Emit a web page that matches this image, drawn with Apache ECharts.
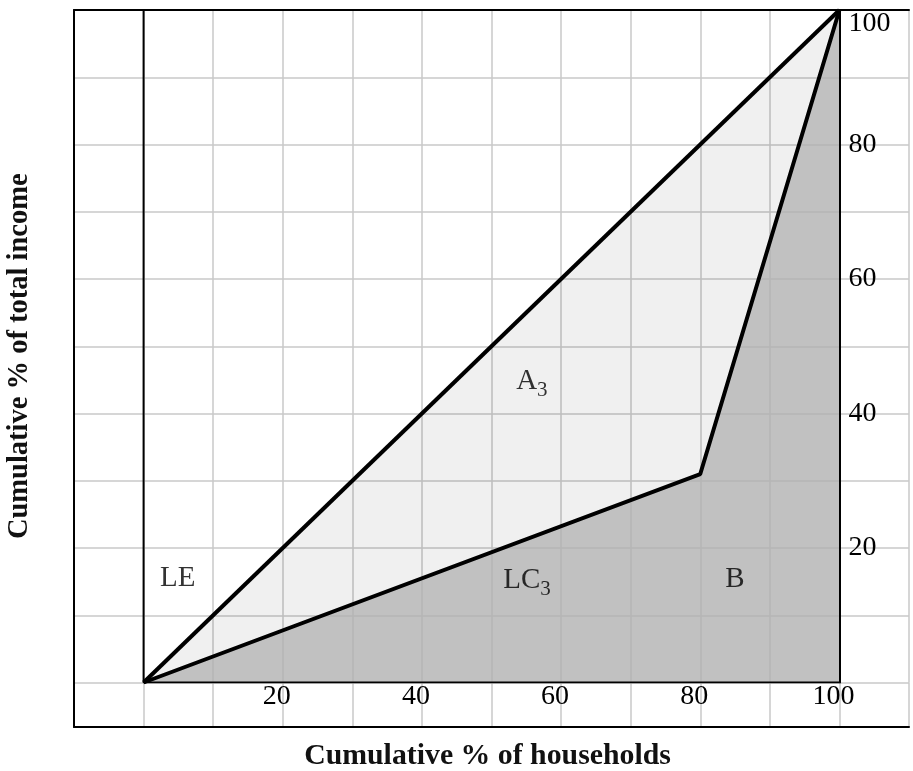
<!DOCTYPE html>
<html><head><meta charset="utf-8">
<script src="https://cdn.jsdelivr.net/npm/echarts@6/dist/echarts.min.js"></script>
<style>html,body{margin:0;padding:0;background:#fff}#c{width:913px;height:771px}</style>
</head><body><div id="c"></div>
<script>
// ---- data ----
const equalityLine = [[0, 0], [100, 100]];
const lorenzCurve = [[0, 0], [80, 31], [100, 100]];
const frameLine = [[0, 100], [0, 0], [100, 0]];
const xTickLabels = [20, 40, 60, 80, 100];
const yTickLabels = [20, 40, 60, 80, 100];
const regionLabels = [
  { name: 'LE', value: [4.9, 15.5] },
  { name: 'A3', value: [55.8, 44.8] },
  { name: 'LC3', value: [55.1, 15.2] },
  { name: 'B', value: [85, 15.4] }
];
const xTitle = 'Cumulative % of households';
const yTitle = 'Cumulative % of total income';

// ---- layout ----
const W = 913, H = 771;
const gl = 74, gr = 4, gtop = 10, gzero = 682.5, gbot = 727;
const gw = W - gl - gr;
const xOff = gw / 120 * 10;
const serif = 'Liberation Serif';
const gridColor = '#c8c8c8';

const chart = echarts.init(document.getElementById('c'), null, { renderer: 'canvas' });
const split = { show: true, lineStyle: { color: gridColor, width: 1.5 } };
const blackLine = { show: true, onZero: false, lineStyle: { color: '#000', width: 2 } };

chart.setOption({
  animation: false,
  backgroundColor: '#fff',
  grid: [
    { left: gl, right: gr, top: gtop, height: gzero - gtop, outerBoundsMode: 'none', containLabel: false },
    { left: gl, right: gr, top: gzero, height: gbot - gzero, outerBoundsMode: 'none', containLabel: false }
  ],
  xAxis: [
    { gridIndex: 0, type: 'value', min: -10, max: 110, interval: 10, position: 'bottom',
      axisLine: { show: false, onZero: false }, axisTick: { show: false }, splitLine: split,
      axisLabel: { formatter: v => xTickLabels.includes(v) ? String(v) : '', fontFamily: serif,
        fontSize: 28, color: '#000', margin: 0, padding: [0, 12, 0, 0] } },
    { gridIndex: 0, type: 'value', min: -10, max: 110, interval: 10, position: 'top',
      axisLine: blackLine, axisTick: { show: false }, axisLabel: { show: false }, splitLine: { show: false }, z: 5 },
    { gridIndex: 1, type: 'value', min: -10, max: 110, interval: 10, position: 'bottom',
      axisLine: blackLine, axisTick: { show: false }, axisLabel: { show: false }, splitLine: split,
      name: xTitle, nameLocation: 'middle', nameGap: 14,
      nameTextStyle: { fontFamily: serif, fontWeight: 'bold', fontSize: 29.8, color: '#111', padding: [0, 8, 0, 0] } }
  ],
  yAxis: [
    { gridIndex: 0, type: 'value', min: 0, max: 100, interval: 10, position: 'left',
      axisLine: blackLine, axisTick: { show: false }, axisLabel: { show: false }, splitLine: split,
      name: yTitle, nameLocation: 'middle', nameGap: 40,
      nameTextStyle: { fontFamily: serif, fontWeight: 'bold', fontSize: 28.5, color: '#111', padding: [0, 20, 0, 0] } },
    { gridIndex: 0, type: 'value', min: 0, max: 100, interval: 10, position: 'right', offset: -xOff,
      axisLine: blackLine, axisTick: { show: false }, splitLine: { show: false },
      axisLabel: { formatter: v => yTickLabels.includes(v) ? String(v) : '', fontFamily: serif,
        fontSize: 28, color: '#000', margin: 9, verticalAlignMaxLabel: 'top' }, z: 5 },
    { gridIndex: 1, type: 'value', min: 0, max: 1, position: 'left',
      axisLine: blackLine, axisTick: { show: false }, axisLabel: { show: false }, splitLine: { show: false } }
  ],
  series: [
    { type: 'line', xAxisIndex: 0, yAxisIndex: 0, data: equalityLine, showSymbol: false, silent: true,
      lineStyle: { color: '#000', width: 4 }, areaStyle: { color: '#000', opacity: 0.06 }, z: 2 },
    { type: 'line', xAxisIndex: 0, yAxisIndex: 0, data: lorenzCurve, showSymbol: false, silent: true,
      lineStyle: { color: '#000', width: 4 }, areaStyle: { color: 'rgb(178,178,178)', opacity: 0.77 }, z: 3 },
    { type: 'line', xAxisIndex: 0, yAxisIndex: 0, data: frameLine, showSymbol: false, silent: true,
      lineStyle: { color: '#000', width: 2 }, z: 4 },
    { type: 'scatter', xAxisIndex: 0, yAxisIndex: 0, data: regionLabels, symbolSize: 0, silent: true, z: 6,
      label: { show: true, position: 'inside', color: '#000',
        formatter: p => { const m = p.name.match(/^(\D+)(\d*)$/); return '{m|' + m[1] + '}' + (m[2] ? '{s|' + m[2] + '}' : ''); },
        rich: {
          m: { fontFamily: serif, fontSize: 29, lineHeight: 30, color: '#000' },
          s: { fontFamily: serif, fontSize: 21, lineHeight: 21, padding: [18, 0, 0, 0], color: '#000' }
        } } }
  ]
});
</script></body></html>
